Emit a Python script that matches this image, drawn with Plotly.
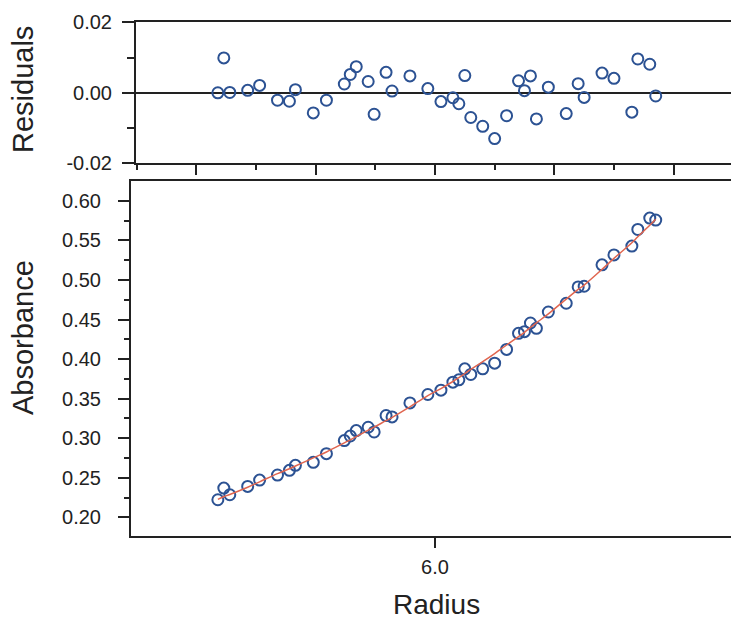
import plotly.graph_objects as go

# Sedimentation-equilibrium scan: radius (cm), measured absorbance, fitted curve, residuals
radius = [5.818, 5.823, 5.828, 5.843, 5.853, 5.868, 5.878, 5.883, 5.898, 5.909,
          5.924, 5.929, 5.934, 5.944, 5.949, 5.959, 5.964, 5.979, 5.994, 6.005,
          6.015, 6.020, 6.025, 6.030, 6.040, 6.050, 6.060, 6.070, 6.075, 6.080,
          6.085, 6.095, 6.110, 6.120, 6.125, 6.140, 6.150, 6.165, 6.170, 6.180,
          6.185]

absorbance = [0.2224, 0.2371, 0.2287, 0.2392, 0.2472, 0.2536, 0.2595, 0.2658, 0.2696, 0.2806,
              0.2971, 0.3029, 0.3097, 0.3139, 0.3080, 0.3287, 0.3270, 0.3447, 0.3553, 0.3608,
              0.3709, 0.3738, 0.3877, 0.3806, 0.3877, 0.3949, 0.4122, 0.4325, 0.4346, 0.4456,
              0.4389, 0.4595, 0.4705, 0.4911, 0.4920, 0.5190, 0.5316, 0.5427, 0.5637, 0.5781,
              0.5756]

fitted = [0.2228, 0.2262, 0.2290, 0.2382, 0.2450, 0.2553, 0.2616, 0.2650, 0.2752, 0.2827,
          0.2942, 0.2980, 0.3020, 0.3103, 0.3140, 0.3223, 0.3262, 0.3398, 0.3538, 0.3628,
          0.3717, 0.3765, 0.3818, 0.3870, 0.3968, 0.4070, 0.4178, 0.4284, 0.4338, 0.4400,
          0.4458, 0.4570, 0.4758, 0.4880, 0.4935, 0.5133, 0.5272, 0.5470, 0.5545, 0.5690,
          0.5765]

residuals = [0.0000, 0.0099, 0.0001, 0.0007, 0.0021, -0.0021, -0.0024, 0.0009, -0.0057, -0.0021,
             0.0025, 0.0052, 0.0074, 0.0032, -0.0061, 0.0058, 0.0005, 0.0048, 0.0012, -0.0025,
             -0.0014, -0.0031, 0.0049, -0.0070, -0.0095, -0.0130, -0.0065, 0.0034, 0.0006, 0.0048,
             -0.0074, 0.0016, -0.0059, 0.0026, -0.0013, 0.0056, 0.0041, -0.0055, 0.0096, 0.0081,
             -0.0009]

x_major_ticks = [6.0]
x_tick_labels = ["6.0"]
resid_ticks = [-0.02, 0.0, 0.02]
resid_tick_labels = ["-0.02", "0.00", "0.02"]

W, H = 731, 621
FONT = "Liberation Sans, Arial, Helvetica, sans-serif"
INK = "#222222"
BLUE = "#2c5293"
RED = "#e0654f"

marker_style = dict(symbol="circle-open", size=11, color=BLUE, line=dict(color=BLUE, width=2))

fig = go.Figure()

fig.add_trace(go.Scatter(x=radius, y=residuals, mode="markers", marker=marker_style,
                         xaxis="x", yaxis="y", showlegend=False))
fig.add_trace(go.Scatter(x=radius, y=absorbance, mode="markers", marker=marker_style,
                         xaxis="x2", yaxis="y2", showlegend=False))
fig.add_trace(go.Scatter(x=radius, y=fitted, mode="lines", line=dict(color=RED, width=1.5, shape="spline"),
                         xaxis="x2", yaxis="y2", showlegend=False))

axis_common = dict(showline=True, linecolor=INK, linewidth=2, showgrid=False, automargin=False,
                   ticks="outside", tickcolor=INK, tickwidth=2,
                   tickfont=dict(family=FONT, size=20, color=INK))

fig.update_layout(
    width=W, height=H,
    margin=dict(l=0, r=0, t=0, b=0, pad=0),
    paper_bgcolor="white", plot_bgcolor="white",
    font=dict(family=FONT, color=INK),
    # residual panel
    xaxis=dict(domain=[136 / W, 1], range=[5.7494, 6.2481], anchor="y",
               mirror=True, zeroline=False, showticklabels=False,
               tick0=5.8, dtick=0.1, ticklen=10,
               minor=dict(tick0=5.75, dtick=0.1, ticklen=5, tickwidth=2, tickcolor=INK, ticks="outside"),
               **axis_common),
    yaxis=dict(domain=[1 - 163.3 / H, 1 - 22.3 / H], range=[-0.02, 0.02], anchor="x",
               tickvals=resid_ticks, ticktext=resid_tick_labels, ticklen=12, ticklabelstandoff=6,
               zeroline=True, zerolinecolor=INK, zerolinewidth=1.5,
               minor=dict(tickvals=[-0.01, 0.01], ticklen=7, tickwidth=2, tickcolor=INK, ticks="outside"),
               **axis_common),
    # absorbance panel
    xaxis2=dict(domain=[131 / W, 1], range=[5.7452, 6.2481], anchor="y2",
                mirror=True, zeroline=False,
                tickvals=x_major_ticks, ticktext=x_tick_labels, ticklen=10, ticklabelstandoff=2,
                **axis_common),
    yaxis2=dict(domain=[1 - 536 / H, 1 - 181 / H], range=[0.1766, 0.6249], anchor="x2",
                zeroline=False, tick0=0.20, dtick=0.05, tickformat=".2f", ticklen=11, ticklabelstandoff=13,
                minor=dict(tick0=0.175, dtick=0.05, ticklen=5, tickwidth=2, tickcolor=INK, ticks="outside"),
                **axis_common),
    annotations=[
        dict(text="Residuals", x=23 / W, y=1 - 90 / H, xref="paper", yref="paper",
             textangle=-90, showarrow=False, xanchor="center", yanchor="middle",
             font=dict(family=FONT, size=29, color=INK)),
        dict(text="Absorbance", x=23 / W, y=1 - 338 / H, xref="paper", yref="paper",
             textangle=-90, showarrow=False, xanchor="center", yanchor="middle",
             font=dict(family=FONT, size=29, color=INK)),
        dict(text="Radius", x=436 / W, y=0, xref="paper", yref="paper",
             showarrow=False, xanchor="center", yanchor="bottom", borderpad=0,
             font=dict(family=FONT, size=28, color=INK)),
    ],
)

fig.write_html("out.html")
